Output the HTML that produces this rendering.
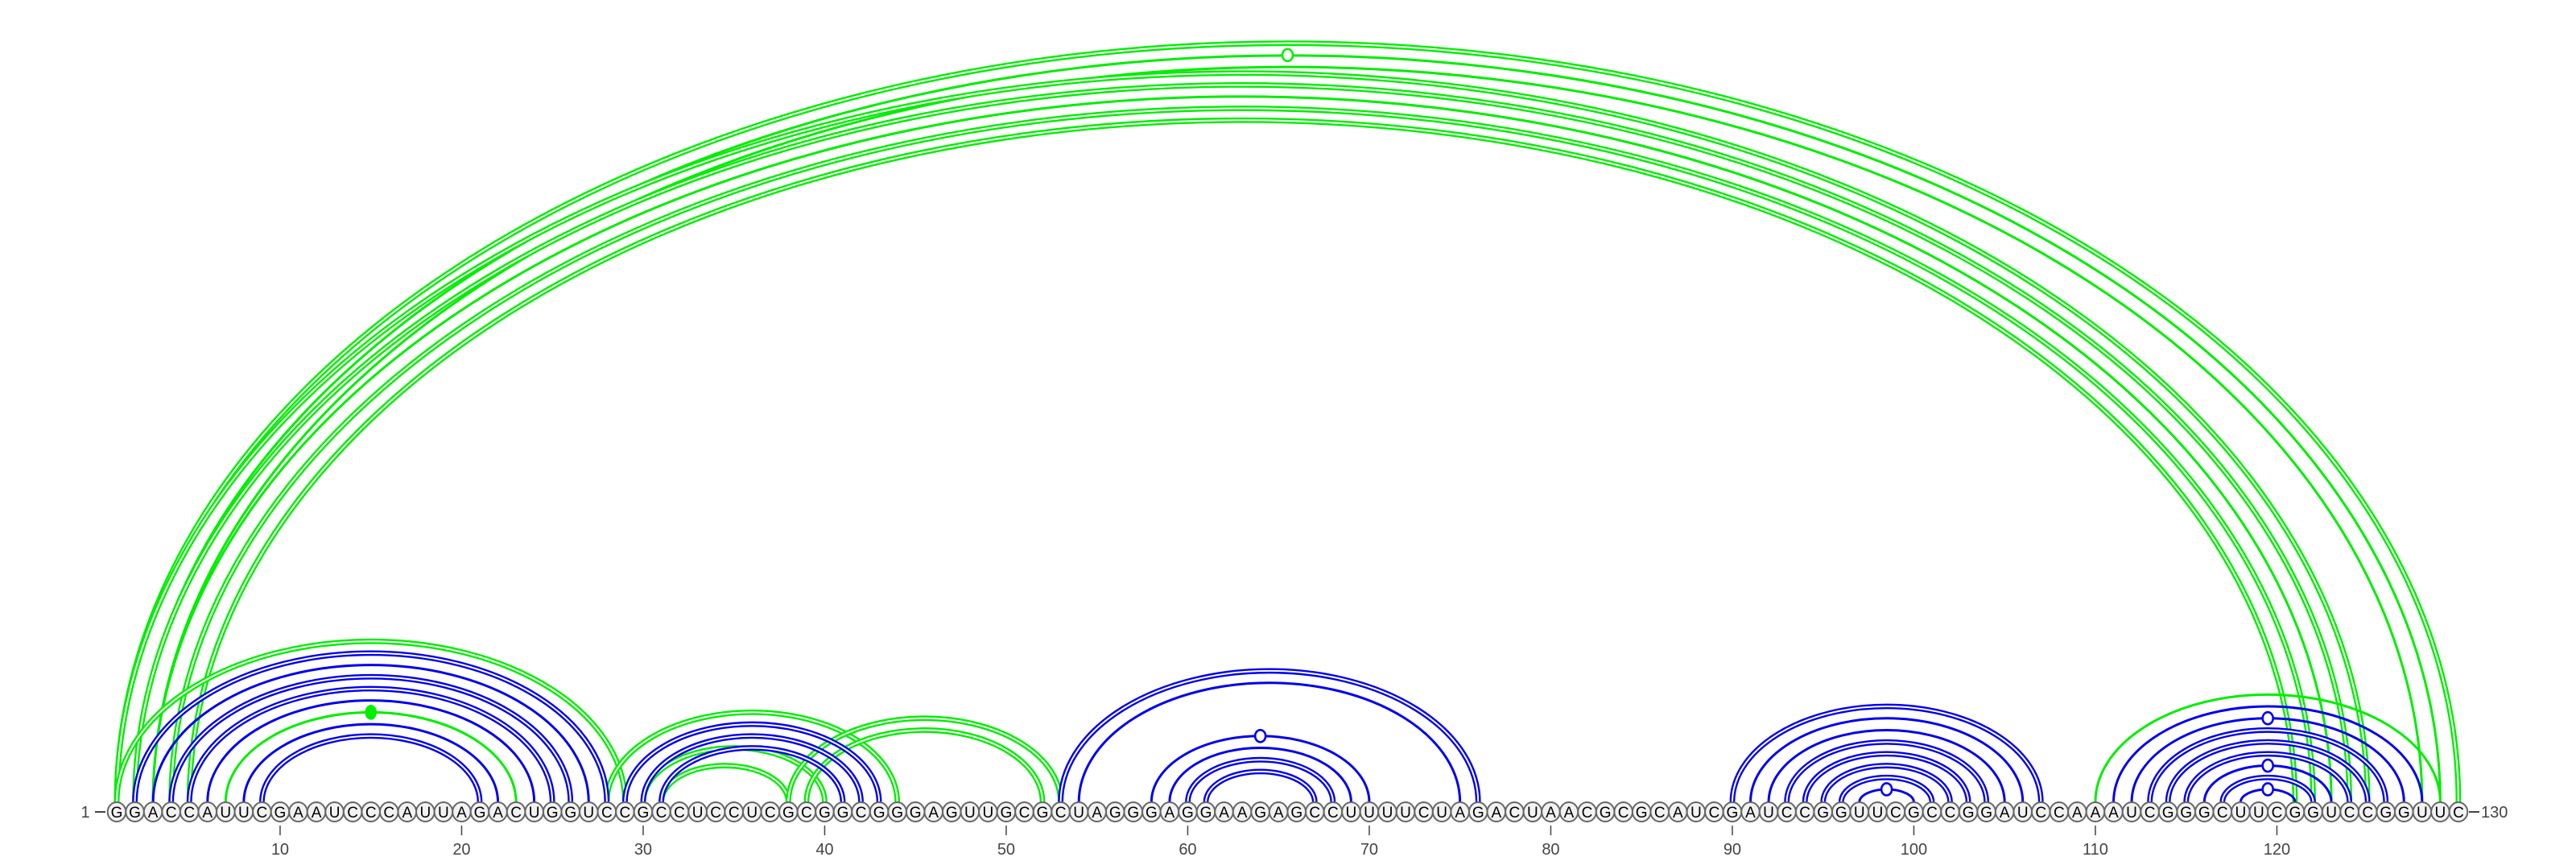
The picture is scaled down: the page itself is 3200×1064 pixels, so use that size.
<!DOCTYPE html>
<html><head><meta charset="utf-8"><style>
html,body{margin:0;padding:0;background:#fff;}
svg{display:block;}
</style></head><body>
<svg id="chart" width="3200" height="1064" viewBox="0 0 3200 1064" xmlns="http://www.w3.org/2000/svg">
<g id="arcs"></g>
<g id="nts"></g>
<g id="ticks"></g>
<text x="106" y="1015" font-family="Liberation Sans, sans-serif" font-size="20" fill="#444" text-anchor="middle">1</text>
<line x1="118" y1="1008" x2="131" y2="1008" stroke="#444" stroke-width="2"/>
<line x1="3067" y1="1008" x2="3080" y2="1008" stroke="#444" stroke-width="2"/>
<text x="3082" y="1015" font-family="Liberation Sans, sans-serif" font-size="20" fill="#444">130</text>
</svg>
<script>
const sequence = "GGACCAUUCGAAUCCCAUUAGACUGGUCCGCCUCCUCGCGGCGGGAGUUGCGCUAGGGAGGAAGAGCCUUUUCUAGACUAACGCGCAUCGAUCCGGUUCGCCGGAUCCAAAUCGGGCUUCGGUCCGGUUC";
const tickPositions = [10,20,30,40,50,60,70,80,90,100,110,120];
// green structure pairs [i, j, double(1/0), marker(0 none,1 open,2 filled)]
const greenPairs = [
 [1,130,1,0],[2,129,0,1],[3,128,0,0],[1,125,1,0],[2,124,1,0],[3,123,0,0],[4,122,1,0],[5,121,1,0],
 [1,29,1,0],[7,23,0,2],
 [28,44,1,0],[30,40,1,0],[31,38,1,0],[38,53,1,0],[39,52,1,0],
 [110,129,0,0]
];
// blue structure pairs
const bluePairs = [
 [9,21,1,0],[8,22,0,0],[6,24,0,0],[5,25,1,0],[4,26,1,0],[3,27,0,0],[2,28,1,0],
 [29,43,1,0],[30,42,1,0],[31,41,1,0],
 [53,76,1,0],[54,75,0,0],[58,70,0,1],[59,69,0,0],[60,68,1,0],[61,67,1,0],
 [90,107,1,0],[91,106,0,0],[92,105,0,0],[93,104,1,0],[94,103,1,0],[95,102,1,0],[96,101,1,0],[97,100,0,1],
 [111,128,0,0],[112,127,0,1],[113,126,1,0],[114,125,1,0],[115,124,1,0],[116,123,0,1],[117,122,1,0],[118,121,0,1]
];
const NS="http://www.w3.org/2000/svg";
const X0=145, DX=22.55, BASE=1008, ARCBASE=996;
function xPos(i){return X0+(i-1)*DX;}
function arcTop(i,j){const hw=(xPos(j)-xPos(i))/2;return BASE-(0.652*hw+6);}
const arcs=document.getElementById('arcs');
function drawPairs(pairs,color,name){
  pairs.forEach(p=>{
    const [i,j,dbl,mk]=p;
    const x1=xPos(i), x2=xPos(j), rx=(x2-x1)/2, top=arcTop(i,j), ry=ARCBASE-top;
    const d=`M${x1},${ARCBASE} A${rx},${ry} 0 0 1 ${x2},${ARCBASE}`;
    const g=document.createElementNS(NS,'g');
    
    
    const a=document.createElementNS(NS,'path');
    a.setAttribute('d',d);a.setAttribute('fill','none');a.setAttribute('stroke',color);
    a.setAttribute('stroke-width',dbl?6.8:3.0);
    g.appendChild(a);
    if(dbl){const b=document.createElementNS(NS,'path');
      b.setAttribute('d',d);b.setAttribute('fill','none');b.setAttribute('stroke','#fff');b.setAttribute('stroke-width',2);
      g.appendChild(b);}
    if(mk){const c=document.createElementNS(NS,'ellipse');
      c.setAttribute('cx',(x1+x2)/2);c.setAttribute('cy',top);c.setAttribute('rx',mk===2?6:6.5);c.setAttribute('ry',mk===2?8:7.5);
      c.setAttribute('fill',mk===2?color:'#fff');c.setAttribute('stroke',color);c.setAttribute('stroke-width',2.6);
      
      
      g.appendChild(c);}
    arcs.appendChild(g);
  });
}
drawPairs(greenPairs,'#00ee00','green');
drawPairs(bluePairs,'#0000ee','blue');
const nts=document.getElementById('nts');
for(let k=0;k<sequence.length;k++){
  const g=document.createElementNS(NS,'g');
  
  
  const c=document.createElementNS(NS,'ellipse');
  c.setAttribute('cx',xPos(k+1));c.setAttribute('cy',BASE);c.setAttribute('rx',11.3);c.setAttribute('ry',12);
  c.setAttribute('fill','#f2f2f2');c.setAttribute('stroke','#666');c.setAttribute('stroke-width',2);
  g.appendChild(c);
  const t=document.createElementNS(NS,'text');
  t.setAttribute('x',xPos(k+1));t.setAttribute('y',BASE+7);t.setAttribute('text-anchor','middle');
  t.setAttribute('font-family','Liberation Sans, sans-serif');t.setAttribute('font-size','19');t.setAttribute('fill','#000');
  t.textContent=sequence[k];
  g.appendChild(t);
  nts.appendChild(g);
}
const ticks=document.getElementById('ticks');
tickPositions.forEach(p=>{
  const l=document.createElementNS(NS,'line');
  l.setAttribute('x1',xPos(p));l.setAttribute('x2',xPos(p));l.setAttribute('y1',1025);l.setAttribute('y2',1037);
  l.setAttribute('stroke','#444');l.setAttribute('stroke-width',1.5);
  
  
  ticks.appendChild(l);
  const t=document.createElementNS(NS,'text');
  t.setAttribute('x',xPos(p));t.setAttribute('y',1061);t.setAttribute('text-anchor','middle');
  t.setAttribute('font-family','Liberation Sans, sans-serif');t.setAttribute('font-size','20');t.setAttribute('fill','#444');
  t.textContent=p;
  
  
  ticks.appendChild(t);
});
</script>
</body></html>
